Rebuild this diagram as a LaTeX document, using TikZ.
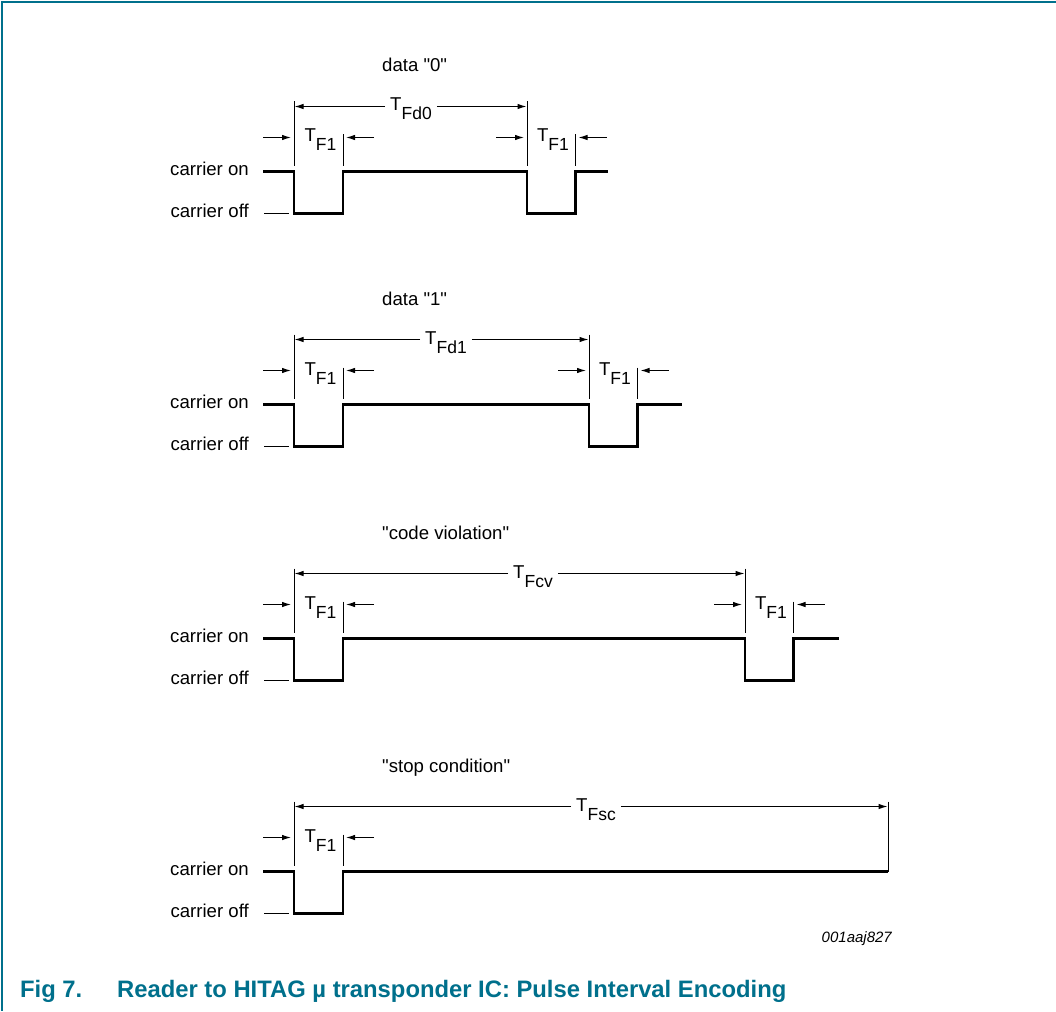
\documentclass[tikz,border=0pt]{standalone}
\usepackage{fontspec}
\setmainfont{Liberation Sans}
\usetikzlibrary{arrows.meta}
\definecolor{nxpteal}{RGB}{0,112,140}
\newcommand\dq{\XeTeXglyph\XeTeXcharglyph"22\relax}
\newcommand\Tlab[1]{T\raisebox{-9pt}{\fontsize{17.5}{17.5}\selectfont #1}}
\tikzset{
  txt/.style={font=\fontsize{18.6}{18.6}\selectfont, inner sep=0pt},
  dimlab/.style={txt, inner xsep=5pt},
  thinline/.style={line width=1pt, draw=black},
  dimarrow/.style={thinline, -{Latex[length=9pt,width=5.5pt]}},
  signal/.style={line width=2.8pt, line join=miter, line cap=butt},
  frame/.style={draw=nxpteal, line width=1.5pt},
  caption/.style={font=\fontsize{23.8}{24}\selectfont\bfseries, text=nxpteal, inner sep=0pt},
}
% #1 prefix, #2 Y of high level, #3 title, #4 subscript, #5 label x, #6 second falling edge x, #7 end x
\newcommand\pulserow[7]{%
  \begin{scope}[shift={(0,#2)}]
    \node[txt,anchor=base west] (#1title) at (382,-99.5) {#3};
    \node[txt,anchor=base east] (#1on) at (249,4) {carrier on};
    \node[txt,anchor=base east] (#1off) at (249,46) {carrier off};
    \coordinate (#1offa) at (264,42);
    \coordinate (#1offb) at (289,42);
    \draw[thinline] (#1offa) -- (#1offb);
    % signal
    \coordinate (#1s0) at (263,0);
    \coordinate (#1e1) at (294,0);
    \coordinate (#1e2) at (343,0);
    \coordinate (#1e3) at (#6,0);
    \coordinate (#1e4) at ({#6+48.5},0);
    \coordinate (#1send) at (#7,0);
    \draw[signal] (#1s0) -- (#1e1) -- ++(0,42) -| (#1e2) -- (#1e3) -- ++(0,42) -| (#1e4) -- (#1send);
    % ticks
    \draw[thinline] (294,-70) -- (294,-5.5);
    \draw[thinline] (343,-37) -- (343,-5.5);
    \draw[thinline] (#6,-70) -- (#6,-5.5);
    \draw[thinline] ({#6+48.5},-37) -- ({#6+48.5},-5.5);
    % long dimension
    \coordinate (#1dy) at (0,-65);
    \node[dimlab,anchor=base] (#1dl) at (#5,-60.5) {\Tlab{#4}};
    \coordinate (#1dA) at (294.5,-65);
    \coordinate (#1dB) at ({#6-0.5},-65);
    \draw[dimarrow] (#1dl.west |- #1dy) -- (#1dA);
    \draw[dimarrow] (#1dl.east |- #1dy) -- (#1dB);
    % TF1 first
    \node[txt,anchor=base] (#1fa) at (320.5,-29.5) {\Tlab{F1}};
    \draw[dimarrow] (263,-34) -- (291,-34);
    \draw[dimarrow] (374,-34) -- (346,-34);
    % TF1 second
    \node[txt,anchor=base] (#1fb) at ({#6+26},-29.5) {\Tlab{F1}};
    \draw[dimarrow] ({#6-31},-34) -- ({#6-3},-34);
    \draw[dimarrow] ({#6+48.5+31},-34) -- ({#6+48.5+3},-34);
  \end{scope}}
\begin{document}
\begin{tikzpicture}[x=1pt,y=-1pt]
  \useasboundingbox (0,0) rectangle (1056,1011);
  \fill[white] (0,0) rectangle (1056,1011);
  % frame
  \coordinate (fTL) at (2,2);
  \coordinate (fTR) at (1056,2);
  \coordinate (fBL) at (2,1011);
  \draw[frame] (fTR) -- (fTL) -- (fBL);

  \pulserow{ra}{171.5}{data \dq0\dq}{Fd0}{411}{527}{608}
  \pulserow{rb}{404.5}{data \dq1\dq}{Fd1}{446}{589}{682}
  \pulserow{rc}{638.5}{\dq code violation\dq}{Fcv}{533}{745}{839}

  % stop condition row
  \begin{scope}[shift={(0,871.5)}]
    \node[txt,anchor=base west] (rdtitle) at (382,-99.5) {\dq stop condition\dq};
    \node[txt,anchor=base east] (rdon) at (249,4) {carrier on};
    \node[txt,anchor=base east] (rdoff) at (249,46) {carrier off};
    \coordinate (rdoffa) at (264,42);
    \coordinate (rdoffb) at (289,42);
    \draw[thinline] (rdoffa) -- (rdoffb);
    \coordinate (rds0) at (263,0);
    \coordinate (rde1) at (294,0);
    \coordinate (rde2) at (343,0);
    \coordinate (rdsend) at (888,0);
    \draw[signal] (rds0) -- (rde1) -- ++(0,42) -| (rde2) -- (rdsend);
    \draw[thinline] (294,-70) -- (294,-5.5);
    \draw[thinline] (343,-37) -- (343,-5.5);
    \draw[thinline] (888,-70) -- (888,0);
    \coordinate (rddy) at (0,-65);
    \node[dimlab,anchor=base] (rddl) at (596,-60.5) {\Tlab{Fsc}};
    \coordinate (rddA) at (294.5,-65);
    \coordinate (rddB) at (887.5,-65);
    \draw[dimarrow] (rddl.west |- rddy) -- (rddA);
    \draw[dimarrow] (rddl.east |- rddy) -- (rddB);
    \node[txt,anchor=base] (rdfa) at (320.5,-29.5) {\Tlab{F1}};
    \draw[dimarrow] (263,-34) -- (291,-34);
    \draw[dimarrow] (374,-34) -- (346,-34);
  \end{scope}

  \node[txt,font=\fontsize{15}{15}\selectfont\itshape,anchor=base east] (code) at (892,942.5) {001aaj827};

  \node[caption,anchor=base west] (fig) at (20,997.5) {Fig 7.};
  \node[caption,anchor=base west] (captext) at (117,997.5) {Reader to HITAG µ transponder IC: Pulse Interval Encoding};
\end{tikzpicture}
\end{document}
